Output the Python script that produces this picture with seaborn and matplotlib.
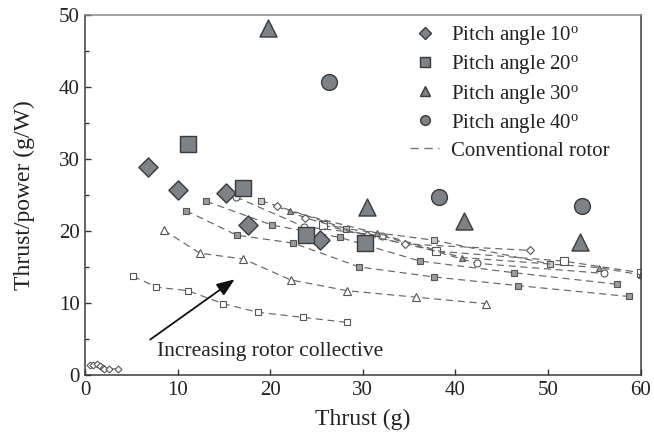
import matplotlib
matplotlib.use("Agg")
import matplotlib.pyplot as plt
from matplotlib.lines import Line2D
import seaborn as sns
import pandas as pd

sns.set_theme(style="white")
plt.rcParams['font.family'] = ['Liberation Serif', 'DejaVu Serif']
plt.rcParams['mathtext.fontset'] = 'custom'
plt.rcParams['mathtext.rm'] = 'Liberation Serif'
plt.rcParams['mathtext.it'] = 'Liberation Serif'

# ---- data: pitch-angle rotors (big markers) ----
p10_x = [6.8, 10.0, 15.2, 17.6, 25.4]
p10_y = [28.9, 25.7, 25.3, 20.8, 18.8]
p20_x = [11.1, 17.1, 23.9, 30.2]
p20_y = [32.1, 26.0, 19.4, 18.3]
p30_x = [19.8, 30.5, 40.9, 53.4]
p30_y = [48.2, 23.3, 21.4, 18.5]
p40_x = [26.3, 38.2, 53.7]
p40_y = [40.7, 24.7, 23.5]

# ---- data: conventional rotor curves ----
c0_x = [0.5, 0.9, 1.3, 1.6, 1.9, 2.1, 2.6, 3.6]
c0_y = [1.4, 1.4, 1.5, 1.25, 1.0, 0.85, 0.85, 0.85]
c1_x = [5.2, 7.7, 11.1, 14.9, 18.7, 23.5, 28.3]
c1_y = [13.7, 12.2, 11.7, 9.9, 8.7, 8.0, 7.3]
c2_x = [8.5, 12.4, 17.1, 22.2, 28.3, 35.7, 43.3]
c2_y = [20.1, 16.9, 16.1, 13.2, 11.7, 10.8, 9.9]
c3_x = [10.9, 16.4, 22.5, 29.6, 37.7, 46.8, 58.7]
c3_y = [22.8, 19.4, 18.3, 15.0, 13.6, 12.4, 10.9]
c4_x = [13.1, 20.2, 27.5, 36.2, 46.3, 57.4]
c4_y = [24.1, 20.8, 19.1, 15.8, 14.2, 12.6]
c5_x = [19.0, 28.2, 37.7, 50.2]
c5_y = [24.2, 20.3, 18.7, 15.4]
c6_x = [25.7, 37.9, 51.7, 60.0]
c6_y = [20.8, 17.2, 15.8, 14.2]
c7_x = [16.3, 23.6, 32.1, 42.3, 56.0]
c7_y = [24.7, 20.6, 19.3, 15.5, 14.1]
c8_x = [20.7, 23.8, 30.4, 34.5, 48.0]
c8_y = [23.4, 21.8, 19.4, 18.2, 17.3]
c9_x = [22.1, 31.5, 40.7, 55.5, 60.0]
c9_y = [22.7, 19.7, 16.3, 14.9, 13.9]

legend_labels = ["Pitch angle 10$^{\\mathrm{o}}$", "Pitch angle 20$^{\\mathrm{o}}$",
                 "Pitch angle 30$^{\\mathrm{o}}$", "Pitch angle 40$^{\\mathrm{o}}$",
                 "Conventional rotor"]

W, H = 654, 437
fig = plt.figure(figsize=(W / 100, H / 100), dpi=100)
ax = fig.add_axes([85 / W, 1 - 375 / H, (640.7 - 85) / W, (375 - 14.7) / H])

line_c = "#666666"
grey_fill = "#9a9da0"
open_fill = "white"

conv = [
    (c0_x, c0_y, "D", open_fill, 3.5),
    (c1_x, c1_y, "s", open_fill, 5),
    (c2_x, c2_y, "^", open_fill, 5.5),
    (c3_x, c3_y, "s", grey_fill, 5),
    (c4_x, c4_y, "s", grey_fill, 5),
    (c5_x, c5_y, "s", "#c8c8c8", 5),
    (c6_x, c6_y, "s", open_fill, 5.5),
    (c7_x, c7_y, "o", open_fill, 5),
    (c8_x, c8_y, "D", open_fill, 4),
    (c9_x, c9_y, "^", grey_fill, 4),
]
for xs, ys, mk, fc, ms in conv:
    df = pd.DataFrame({"x": xs, "y": ys})
    sns.lineplot(data=df, x="x", y="y", ax=ax, sort=False, color=line_c,
                 linestyle=(0, (6, 4)), linewidth=0.85, marker=mk, markersize=ms,
                 markerfacecolor=fc, markeredgecolor="#555555", markeredgewidth=0.8,
                 legend=False)

big_fc = "#7d8287"
big_ec = "#3a3a3a"
groups = [(p10_x, p10_y, "D", 95), (p20_x, p20_y, "s", 130),
          (p30_x, p30_y, "^", 150), (p40_x, p40_y, "o", 130)]
for xs, ys, mk, s in groups:
    df = pd.DataFrame({"x": xs, "y": ys})
    sns.scatterplot(data=df, x="x", y="y", ax=ax, marker=mk, s=s, color=big_fc,
                    edgecolor=big_ec, linewidth=1.0, legend=False, zorder=5)

ax.set_xlim(0, 60)
ax.set_ylim(0, 50)
ax.set_xticks([0, 10, 20, 30, 40, 50, 60])
ax.set_yticks([0, 10, 20, 30, 40, 50])
ax.set_yticks([5, 15, 25, 35, 45], minor=True)
ax.tick_params(axis="both", which="major", direction="in", length=4, width=1,
               labelsize=15, colors="#333333", labelcolor="#222222", pad=4)
ax.tick_params(axis="y", which="minor", direction="in", length=3, width=1,
               colors="#333333", left=True)
ax.tick_params(axis="x", which="major", bottom=True)
ax.tick_params(axis="y", which="major", left=True)
for sp in ["left", "bottom", "right"]:
    ax.spines[sp].set_color("#3a3a3a")
    ax.spines[sp].set_linewidth(1.1)
ax.spines["top"].set_color("#8a8a8a")
ax.spines["top"].set_linewidth(1.1)

ax.set_xlabel("Thrust (g)", fontsize=17, color="#222222", labelpad=7)
ax.set_ylabel("Thrust/power (g/W)", fontsize=17, color="#222222", labelpad=17)

ax.annotate("", xy=(16.4, 13.5), xytext=(6.8, 4.7),
            arrowprops=dict(arrowstyle="-|>,head_length=0.9,head_width=0.35",
                            color="#111111", lw=1.3))
ax.text(7.8, 3.2, "Increasing rotor collective", fontsize=15.5, color="#222222",
        va="center", ha="left")

handles = [
    Line2D([], [], linestyle="none", marker="D", markersize=6, markerfacecolor=big_fc, markeredgecolor=big_ec),
    Line2D([], [], linestyle="none", marker="s", markersize=7, markerfacecolor=big_fc, markeredgecolor=big_ec),
    Line2D([], [], linestyle="none", marker="^", markersize=7, markerfacecolor=big_fc, markeredgecolor=big_ec),
    Line2D([], [], linestyle="none", marker="o", markersize=7, markerfacecolor=big_fc, markeredgecolor=big_ec),
    Line2D([], [], linestyle=(0, (6, 4)), color="#777777", linewidth=1.0),
]
leg = ax.legend(handles, legend_labels, loc="upper left",
                bbox_to_anchor=(410 / W, 1 - 24 / H), bbox_transform=fig.transFigure,
                frameon=False, fontsize=15, handlelength=1.4, handletextpad=0.55,
                labelspacing=0.3, borderpad=0, borderaxespad=0)
for t in leg.get_texts():
    t.set_color("#222222")

fig.savefig("out.png", dpi=100)
